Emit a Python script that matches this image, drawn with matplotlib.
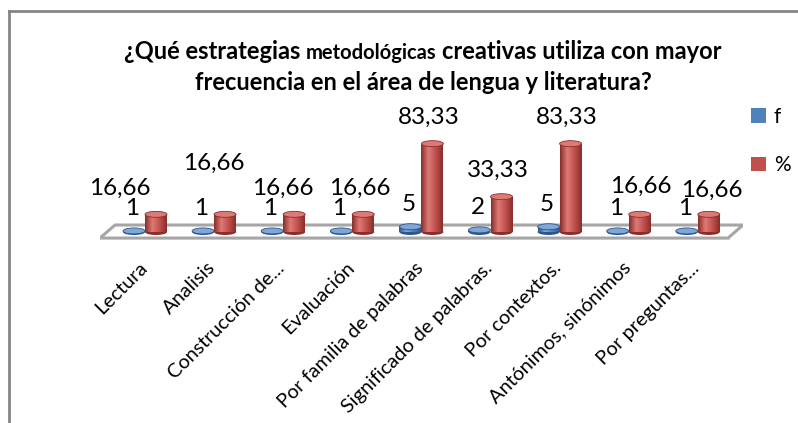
import matplotlib
matplotlib.use("Agg")
import matplotlib.pyplot as plt
import numpy as np
from matplotlib.patches import Ellipse, Polygon
from matplotlib.lines import Line2D
from matplotlib.colors import LinearSegmentedColormap

categorias = ["Lectura", "Analisis", "Construcción de...", "Evaluación",
              "Por familia de palabras", "Significado de palabras.",
              "Por contextos.", "Antónimos, sinónimos", "Por preguntas..."]
f_vals = [1, 1, 1, 1, 5, 2, 5, 1, 1]
pct_vals = [16.66, 16.66, 16.66, 16.66, 83.33, 33.33, 83.33, 16.66, 16.66]
f_labels = ["1", "1", "1", "1", "5", "2", "5", "1", "1"]
pct_labels = ["16,66", "16,66", "16,66", "16,66", "83,33", "33,33", "83,33", "16,66", "16,66"]

# label nudges (pixels), like excel moved them to avoid overlaps
pct_shift = [(-32, 0), (-7, 25), (-7, 0), (0, 0), (0, 0), (0, 0), (0, 0), (5, 2), (7, -2)]

plt.rcParams['font.family'] = ['Lato', 'DejaVu Sans']

W, H = 798, 423
fig = plt.figure(figsize=(W / 100, H / 100), dpi=100)

# outer chart frame (only top and left edges visible)
fig.add_artist(Line2D([9 / W, 9 / W], [0, 1 - 11 / H], color='#868686', lw=2, transform=fig.transFigure))
fig.add_artist(Line2D([9 / W, 1], [1 - 11 / H, 1 - 11 / H], color='#868686', lw=2, transform=fig.transFigure))

ax = fig.add_axes([100 / W, 1 - 240 / H, 643 / W, 140 / H])
px_per_unit = 1.06
ymin = -8 / px_per_unit
ax.set_ylim(ymin, ymin + 140 / px_per_unit)
step = 69.1
xmin = (100 - 145) / step
xmax = (743 - 145) / step
ax.set_xlim(xmin, xmax)
ax.axis('off')

# 3d floor
floor = Polygon([(0, 0.014), (628 / 643, 0.014), (1.0, 0.107), (15 / 643, 0.107)],
                closed=True, facecolor='white', edgecolor='#a6a6a6', lw=2.2,
                transform=ax.transAxes, zorder=1)
ax.add_patch(floor)
ax.plot([0, 628 / 643], [0.0, 0.0], color='#c8c8c8', lw=2, transform=ax.transAxes, zorder=1)

x = np.arange(len(categorias))
bw = 22 / step
off = 11 / step
eh = 6 / px_per_unit


def cylinders(xs, vals, base, dark, light, z):
    cmap = LinearSegmentedColormap.from_list('c', [dark, light, base, dark])
    bars = ax.bar(xs, vals, width=bw, color=base, zorder=z, linewidth=0)
    grad = np.linspace(0, 1, 50).reshape(1, -1)
    for b, v in zip(bars, vals):
        x0 = b.get_x()
        ax.add_patch(Ellipse((x0 + bw / 2, 0), bw, eh, facecolor=dark, edgecolor='none', zorder=z))
        im = ax.imshow(grad, cmap=cmap, extent=[x0, x0 + bw, 0, v], aspect='auto', zorder=z + 0.1)
        im.set_clip_path(b)
        ax.add_patch(Ellipse((x0 + bw / 2, v), bw, eh, facecolor=light, edgecolor=dark, lw=0.6, zorder=z + 0.2))
    return bars


b_f = cylinders(x - off, f_vals, '#4F81BD', '#2f5589', '#7ea6d8', 2)
b_p = cylinders(x + off, pct_vals, '#C0504D', '#8a2e2b', '#de7a76', 3)
ax.set_xlim(xmin, xmax)
ax.set_ylim(ymin, ymin + 140 / px_per_unit)

for i in range(len(categorias)):
    ax.annotate(f_labels[i], (x[i] - off, f_vals[i]), xytext=(-2, 22), textcoords='offset pixels',
                ha='center', va='center', fontsize=17.5, zorder=5)
    dx, dy = pct_shift[i]
    ax.annotate(pct_labels[i], (x[i] + off, pct_vals[i]), xytext=(-4 + dx, 26 + dy), textcoords='offset pixels',
                ha='center', va='center', fontsize=17.5, zorder=5)

# category labels
for i, lab in enumerate(categorias):
    ax.annotate(lab, (x[i], 0), xycoords=('data', 'axes fraction'), xytext=(-1, -25),
                textcoords='offset pixels', rotation=45, ha='right', va='center',
                rotation_mode='anchor', fontsize=14.3, annotation_clip=False)

# legend
fig.legend([b_f[0], b_p[0]], ['f', '%'], loc='upper left', bbox_to_anchor=(751 / W, 1 - 107 / H),
           frameon=False, fontsize=15, handlelength=0.7, handleheight=0.7, handletextpad=0.4,
           labelspacing=1.35, borderpad=0, borderaxespad=0)

# title, first line has a smaller word in the middle
fig.canvas.draw()
r = fig.canvas.get_renderer()
pieces = [("¿Qué estrategias", 17), ("metodológicas", 14.5), ("creativas utiliza con mayor", 17)]
texts = []
widths = []
for s, fs in pieces:
    t = fig.text(0, 1 - 52 / H, s, fontsize=fs, fontweight='bold', ha='left', va='baseline')
    texts.append(t)
    widths.append(t.get_window_extent(r).width)
sp = fig.text(0, 0, "a a", fontsize=17, fontweight='bold')
sp2 = fig.text(0, 0, "aa", fontsize=17, fontweight='bold')
space = sp.get_window_extent(r).width - sp2.get_window_extent(r).width
sp.remove()
sp2.remove()
total = sum(widths) + 2 * space
xpos = 423 - total / 2
for t, w in zip(texts, widths):
    t.set_x(xpos / W)
    t.set_y(1 - 59 / H)
    xpos += w + space
fig.text(423 / W, 1 - 90 / H, "frecuencia en el área de lengua y literatura?", fontsize=17,
         fontweight='bold', ha='center', va='baseline')

plt.savefig('out.png', dpi=100)
